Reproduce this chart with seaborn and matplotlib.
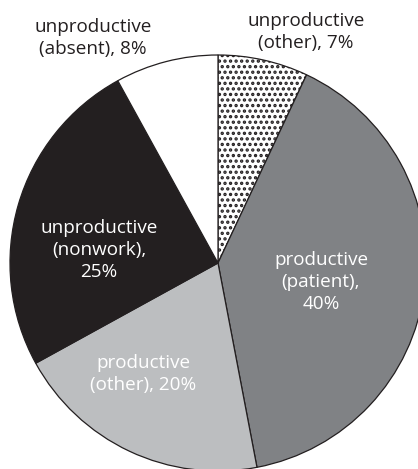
import matplotlib
matplotlib.use("Agg")
import matplotlib.pyplot as plt
import seaborn as sns

# ---- data ----
categories = ["unproductive\n(other), 7%",
              "productive\n(patient),\n40%",
              "productive\n(other), 20%",
              "unproductive\n(nonwork),\n25%",
              "unproductive\n(absent), 8%"]
values = [7, 40, 20, 25, 8]
colors = ["#ffffff", "#808285", "#bcbec0", "#231f20", "#ffffff"]
text_colors = ["#231f20", "white", "white", "white", "#231f20"]
hatches = ["...", None, None, None, None]

# ---- layout (pixel positions of label centres, figure px from top-left) ----
W, H = 418, 469
label_px = [(306, 32), (321, 282), (143, 374), (99, 250), (93, 38)]
cx, cy, R = 218, 263, 208

sns.set_theme(style="white")
plt.rcParams['font.family'] = ['Open Sans', 'DejaVu Sans']
plt.rcParams['hatch.linewidth'] = 1.6

fig = plt.figure(figsize=(W / 100, H / 100), dpi=100)
ax = fig.add_axes([0, 0, 1, 1])
wedges, _ = ax.pie(values, startangle=90, counterclock=False, colors=colors,
                   wedgeprops=dict(edgecolor="#231f20", linewidth=0.9))
for w, h in zip(wedges, hatches):
    if h:
        w.set_hatch(h)
ax.set_aspect('auto')
ax.set_xlim(-cx / R, (W - cx) / R)
ax.set_ylim(-(H - cy) / R, cy / R)
ax.axis('off')

for lab, (px, py), tc in zip(categories, label_px, text_colors):
    fig.text(px / W, 1 - py / H, lab, ha='center', va='center', color=tc,
             fontsize=13.6, fontweight='normal', linespacing=1.3,
             transform=fig.transFigure)

fig.savefig("out.png", dpi=100, facecolor="white")
